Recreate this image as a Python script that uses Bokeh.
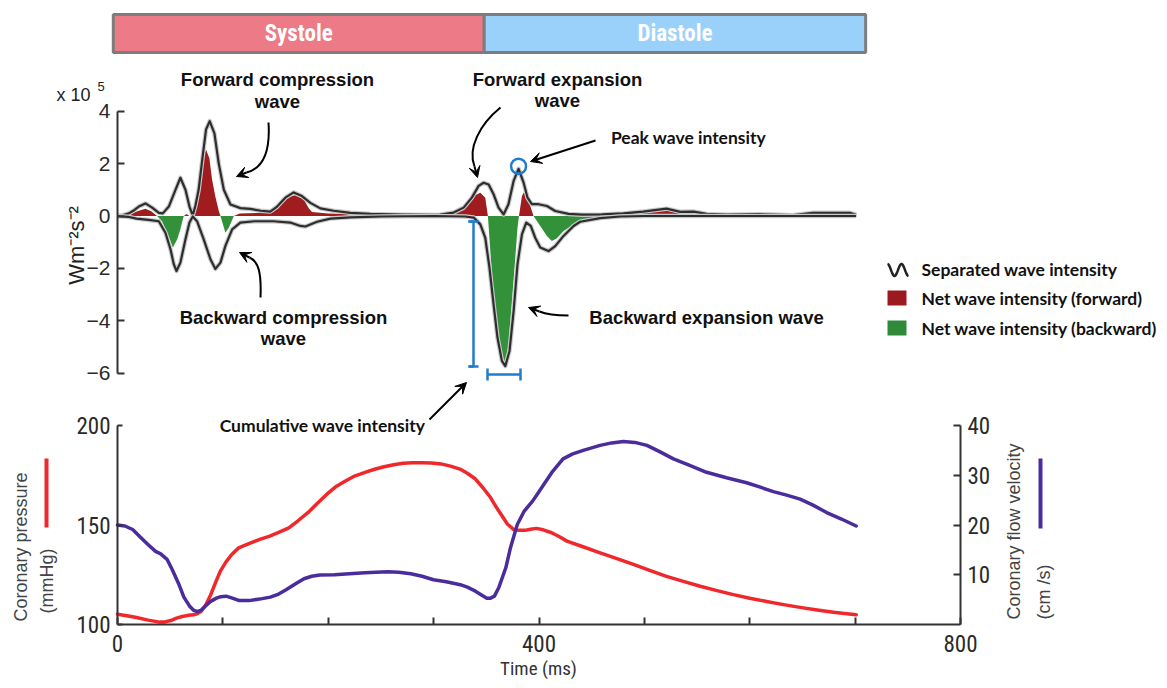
import numpy as np
from bokeh.plotting import figure
from bokeh.models import Range1d, LinearAxis, FixedTicker, Arrow, VeeHead
from bokeh.core.properties import value
from bokeh.embed import file_html
from bokeh.resources import INLINE

# ---------------- data ----------------
# Separated wave intensity (x 10^5 W m^-2 s^-2)
time_fwd_ms = [0, 5, 10.8, 15, 20.2, 26.5, 32.9, 39.2, 43, 48.7, 55, 59.7, 64.5, 68.3, 71.4, 74, 77,
               80.9, 84, 87.5, 92, 96.1, 100.9, 107.2, 116.6, 126, 136, 145, 151.5, 159.3, 167.2, 175,
               183, 192.5, 205, 221, 240, 270, 300, 306, 319, 328.5, 336.3, 342.7, 347.4, 352.2, 356.9,
               361.6, 366.4, 371, 375.9, 380.6, 385.4, 389.1, 393.2, 399.5, 407.5, 415.4, 428, 441, 460,
               480, 499, 521, 534, 546.6, 559, 578, 609, 641, 660, 679, 695, 701]
sep_forward = [0, 0.03, 0.1, 0.2, 0.36, 0.48, 0.32, 0.12, 0.1, 0.36, 1.0, 1.46, 1.0, 0.36, 0.02, 0.4, 1.0,
               2.3, 3.3, 3.62, 3.15, 2.0, 1.0, 0.44, 0.3, 0.27, 0.2, 0.17, 0.36, 0.7, 0.9, 0.76,
               0.5, 0.29, 0.2, 0.12, 0.08, 0.05, 0.04, 0.05, 0.13, 0.32, 0.7, 1.15, 1.27, 1.2, 0.83,
               0.32, 0.06, 0.45, 1.34, 1.8, 1.27, 0.7, 0.45, 0.45, 0.38, 0.19, 0.08, 0.05, 0.06,
               0.1, 0.17, 0.28, 0.16, 0.17, 0.08, 0.05, 0.07, 0.03, 0.12, 0.12, 0.12, 0.05]
time_bwd_ms = [0, 10, 18, 29.7, 39.2, 45.5, 50.3, 53.4, 56, 59.7, 64.5, 68.3, 71.4, 75.5, 81.8, 88.2,
               92.9, 97.7, 102.4, 108.8, 116.6, 130, 148, 164, 173.6, 178.3, 189.4, 202, 221, 250, 300,
               330, 338, 344.3, 349, 353, 356.9, 360.6, 364.8, 368, 372, 375.9, 379.6, 383.8, 387.9,
               392.2, 396.4, 401.2, 409, 415.4, 423.3, 432.8, 439, 458, 477, 500, 701]
sep_backward = [0, -0.03, -0.1, -0.15, -0.2, -0.64, -1.27, -1.84, -2.1, -1.78, -0.89, -0.25, -0.02, -0.2,
                -0.89, -1.65, -2.02, -1.78, -1.14, -0.51, -0.25, -0.2, -0.2, -0.25, -0.38, -0.4, -0.22,
                -0.1, -0.05, -0.02, 0, -0.02, -0.06, -0.32, -0.83, -1.97, -3.37, -4.64, -5.53, -5.73,
                -5.15, -3.63, -1.84, -0.7, -0.25, -0.38, -0.83, -1.2, -1.34, -1.15, -0.76, -0.38,
                -0.22, -0.08, -0.02, 0, 0]
# Net wave intensity (x 10^5 W m^-2 s^-2)
time_net_ms = [0, 6, 12, 20.2, 26.5, 32, 37.6, 42.3, 47, 50.3, 52.5, 56.6, 59.7, 62.2, 63, 65.6, 68,
               72.3, 75.5, 78.7, 81.2, 84, 87.2, 89.7, 92.9, 96.1, 97.7, 99.9, 102.4, 105.6, 108.8,
               110.4, 116, 135, 148, 154.6, 161, 168.8, 176.7, 181.5, 184.6, 200, 230, 260, 300, 312,
               322, 331.6, 337.9, 344.3, 349, 351.5, 353.8, 356.9, 360.6, 364.8, 368, 371, 374.3,
               377.5, 379.6, 381, 383.8, 386, 389.1, 392.2, 394.8, 396.4, 401.2, 407.5, 412.2, 417,
               423.3, 432.8, 439, 458, 477, 499, 521, 534, 546.6, 559, 578, 592, 609, 641, 660, 679,
               695, 701]
net_intensity = [0, 0.02, 0.08, 0.2, 0.28, 0.18, 0, -0.2, -0.64, -0.95, -1.2, -0.9, -0.51, -0.1, 0,
                 0.08, 0, 0, 0.61, 1.4, 2.16, 2.54, 2.2, 1.4, 0.73, 0.2, 0, -0.3, -0.64, -0.45, -0.15,
                 0, 0.1, 0.12, 0.15, 0.45, 0.7, 0.8, 0.64, 0.3, 0.15, 0.1, 0.06, 0.03, 0.01, 0.03,
                 0.13, 0.45, 0.76, 0.89, 0.7, 0, -1.34, -3.0, -4.26, -5.28, -5.66, -4.9, -3.24,
                 -1.59, -0.45, 0, 0.76, 0.93, 0.7, 0.32, 0, -0.1, -0.38, -0.76, -0.95, -0.85,
                 -0.57, -0.32, -0.17, -0.05, 0, 0.15, 0.24, 0.13, 0.15, 0.05, 0.03, 0.02, 0.05, 0.0,
                 0.1, 0.1, 0.1, 0]
# Coronary pressure (mmHg)
time_pres_ms = [0, 9, 18, 29, 40, 45, 50.6, 56, 61.5, 67, 72.3, 76, 79.5, 84, 88.5, 93, 97.6, 103,
                108.4, 115, 126.4, 135, 144.5, 153, 162.6, 171, 180.7, 190, 198.7, 207, 216.8, 225,
                234.9, 244, 253, 262, 271, 280, 289, 298, 307, 316, 325, 332, 339.7, 347, 354, 360,
                365, 370, 375.8, 381, 386.6, 392, 397.5, 404, 412, 419, 426.5, 441, 458, 474, 489.6,
                505, 521, 537, 553, 569, 584.5, 600, 616, 632, 647.8, 664, 679.4, 690, 701]
coronary_pressure = [105.2, 104.4, 103.5, 102.2, 101.2, 101.3, 102, 103.2, 104, 104.6, 104.9, 105.5,
                     106.6, 110, 115, 121, 126.8, 131.5, 135.2, 138.5, 141, 142.8, 144.4, 146.3, 148.6,
                     152, 156.2, 161, 165.5, 169.2, 172.2, 174.6, 176.4, 178, 179.3, 180.3, 181, 181.3,
                     181.3, 181.2, 180.7, 179.6, 178.1, 176, 173.1, 168.6, 163.8, 158.5, 154.5, 150.5,
                     147.8, 147.3, 147.3, 147.9, 148.3, 147.6, 146.1, 144.2, 141.9, 139.2, 136, 133.1,
                     130.2, 127.2, 124.2, 121.7, 119.2, 117, 115, 113.2, 111.6, 110, 108.6, 107.3,
                     106.2, 105.5, 104.9]
# Coronary flow velocity (cm/s)
time_vel_ms = [0, 7, 14.4, 22, 28.9, 36.1, 41, 47, 52, 57.8, 63, 68.7, 72, 75.9, 79.5, 83, 88, 93.9,
               98, 103, 109, 115.6, 125, 137.3, 145, 151.7, 160, 169.8, 177, 184.3, 192, 206, 220,
               234.9, 245, 256.5, 267, 278.3, 289, 299.9, 312, 325.3, 332, 339.7, 345, 350.5, 354,
               357.7, 362, 368.5, 373, 379.4, 386, 393.9, 399, 404.7, 413, 422.8, 432, 442, 458, 469,
               480, 491, 502.4, 514, 527.6, 543, 559, 578, 597, 610, 622.4, 635, 647.8, 660, 673,
               687, 701]
flow_velocity = [20, 19.8, 19.1, 17.5, 16.1, 14.7, 14.2, 13.1, 11, 8.3, 5.5, 3.6, 2.9, 2.6, 2.9, 3.6,
                 4.6, 5.3, 5.6, 5.7, 5.3, 4.8, 4.8, 5.2, 5.5, 6, 7, 8.3, 9.2, 9.7, 9.95, 10, 10.2, 10.4,
                 10.5, 10.6, 10.5, 10.2, 9.7, 9, 8.6, 8, 7.5, 6.7, 6.0, 5.3, 5.3, 5.7, 7.5, 11.4, 15.5,
                 20.1, 22.8, 24.8, 26.4, 28.2, 30.8, 33.3, 34.3, 35, 36, 36.5, 36.8, 36.6, 36, 34.8,
                 33.3, 32, 30.6, 29.5, 28.5, 27.6, 26.7, 26, 25.2, 24, 22.5, 21.2, 19.8]

wave_ticks = [-6, -4, -2, 0, 2, 4]
time_major_ticks = [0, 400, 800]
time_minor_ticks = [100, 200, 300, 500, 600, 700]
pressure_ticks = [100, 150, 200]
velocity_ticks = [10, 20, 30, 40]
phase_names = ["Systole", "Diastole"]
phase_start_ms = [-4, 348]
phase_end_ms = [348, 710]
peak_time_ms = [380.6]
peak_value = [1.9]

# ---------------- geometry ----------------
W, H = 1167, 688
X0, KX = 117.0, (960.0 - 117.0) / 800.0      # px of t=0, px per ms
Y0W, KW = 215.5, 26.2                          # px of wave 0, px per 1e5
YP100, KP = 624.0, 1.99                        # px of 100 mmHg, px per mmHg
KV = 4.975                                     # px per cm/s (0 at YP100)


def tx(px):
    return (px - X0) / KX


def wy(py):
    return (Y0W - py) / KW


p = figure(width=W, height=H, x_range=Range1d(tx(0), tx(W)), y_range=Range1d(wy(H), wy(0)),
           x_axis_type=None, y_axis_type=None, toolbar_location=None, output_backend="svg",
           min_border=0, outline_line_color=None)
p.extra_y_ranges = {
    "pres": Range1d(100 - (H - YP100) / KP, 100 + YP100 / KP),
    "vel": Range1d(-(H - YP100) / KV, YP100 / KV),
}

AX = "#333333"
NARROW = "'Liberation Sans Narrow', 'Roboto Condensed', 'Liberation Sans', sans-serif"


def style_axis(ax, font, size):
    ax.axis_line_color = AX
    ax.axis_line_width = 2
    ax.major_tick_line_color = AX
    ax.major_tick_line_width = 2
    ax.minor_tick_line_color = AX
    ax.minor_tick_line_width = 2
    ax.major_tick_in = 7
    ax.major_tick_out = 0
    ax.minor_tick_in = 0
    ax.minor_tick_out = 0
    ax.major_label_text_font = font
    ax.major_label_text_font_size = size
    ax.major_label_text_color = "#2a2a2a"
    ax.major_label_standoff = 7


# wave intensity axis
ax_w = LinearAxis(fixed_location=0, bounds=(-6, 4), ticker=FixedTicker(ticks=wave_ticks))
style_axis(ax_w, "Liberation Sans", "21px")
p.add_layout(ax_w, "left")

# time axis
ax_t = LinearAxis(y_range_name="pres", fixed_location=100, bounds=(0, 800),
                  ticker=FixedTicker(ticks=time_major_ticks, minor_ticks=time_minor_ticks))
style_axis(ax_t, NARROW, "23px")
ax_t.minor_tick_in = 7
ax_t.major_label_standoff = 10
p.add_layout(ax_t, "below")

# pressure axis
ax_p = LinearAxis(y_range_name="pres", fixed_location=0, bounds=(100, 200),
                  ticker=FixedTicker(ticks=pressure_ticks))
style_axis(ax_p, NARROW, "23px")
ax_p.major_tick_in = 5
p.add_layout(ax_p, "left")

# velocity axis
ax_v = LinearAxis(y_range_name="vel", fixed_location=800, bounds=(0, 40),
                  ticker=FixedTicker(ticks=velocity_ticks))
style_axis(ax_v, NARROW, "23px")
p.add_layout(ax_v, "right")

# ---------------- phase banner ----------------
p.quad(left=phase_start_ms, right=phase_end_ms, top=[wy(14)] * 2, bottom=[wy(52)] * 2,
       fill_color=["#ec7a87", "#99d1fb"], line_color="#7d7d7d", line_width=3)
p.text(x=[(a + b) / 2 for a, b in zip(phase_start_ms, phase_end_ms)], y=[wy(33)] * 2, text=phase_names,
       text_font=value(NARROW), text_font_style="bold", text_font_size="23px",
       text_color="white", text_align="center", text_baseline="middle")

# ---------------- wave intensity ----------------
net = np.array(net_intensity)
p.varea(x=time_net_ms, y1=0, y2=np.maximum(net, 0), fill_color="#a01c1f")
p.varea(x=time_net_ms, y1=0, y2=np.minimum(net, 0), fill_color="#33913a")
for tt, vv in ((time_fwd_ms, sep_forward), (time_bwd_ms, sep_backward)):
    p.line(tt, vv, line_color="#c9c9c9", line_width=4.5, line_join="round")
    p.line(tt, vv, line_color="#2d2d2d", line_width=2.2, line_join="round")

# peak wave intensity marker
BLUE = "#1f7ccf"
p.scatter(x=peak_time_ms, y=peak_value, size=15, marker="circle", fill_color=None,
          line_color=BLUE, line_width=2.5)
# cumulative wave intensity brackets
p.segment(x0=[tx(473)] * 3 + [tx(487), tx(487), tx(520)],
          y0=[wy(221), wy(221), wy(366)] + [wy(374), wy(368), wy(368)],
          x1=[tx(473), tx(468), tx(468)] + [tx(520), tx(487), tx(520)],
          y1=[wy(366), wy(221), wy(366)] + [wy(374), wy(380), wy(380)],
          line_color=BLUE, line_width=2.5)
p.segment(x0=[tx(478), tx(478)], y0=[wy(221), wy(366)], x1=[tx(468), tx(468)], y1=[wy(221), wy(366)],
          line_color=BLUE, line_width=2.5)

# ---------------- pressure / velocity ----------------
p.line(time_pres_ms, coronary_pressure, y_range_name="pres", line_color="#f0282b", line_width=3.5,
       line_join="round", line_cap="round")
p.line(time_vel_ms, flow_velocity, y_range_name="vel", line_color="#4a2c9c", line_width=3.5,
       line_join="round", line_cap="round")

# ---------------- annotations ----------------
def texts(items, font, size, style="bold", color="#111111", align="center", angle=0.0):
    p.text(x=[tx(i[1]) for i in items], y=[wy(i[2]) for i in items], text=[i[0] for i in items],
           text_font=value(font), text_font_size=size, text_font_style=style, text_color=color,
           text_align=align, text_baseline="middle", angle=angle)


texts([("Forward compression", 277, 79), ("wave", 277, 101),
       ("Backward compression", 283, 317), ("wave", 283, 338),
       ("Forward expansion", 557, 79), ("wave", 557, 100),
       ("Backward expansion wave", 706, 317)], "Liberation Sans", "18.5px")
texts([("Peak wave intensity", 688, 137), ("Cumulative wave intensity", 322, 425)], "Lato", "17.5px")
texts([("Separated wave intensity", 921, 269), ("Net wave intensity (forward)", 921, 298),
       ("Net wave intensity (backward)", 921, 328)], "Lato", "17.5px", align="left")

# axis titles
texts([("x 10", 56, 94)], "Liberation Sans", "18px", style="normal", color="#222222", align="left")
texts([("5", 97, 86)], "Liberation Sans", "13px", style="normal", color="#222222", align="left")
texts([("Wm\u207b\u00b2s\u207b\u00b2", 76, 245)], "Liberation Sans", "22px", style="normal",
      color="#222222", angle=np.pi / 2)
texts([("Time (ms)", 538, 668)], NARROW, "19px", style="normal", color="#333333")
texts([("Coronary pressure", 20, 621), ("(mmHg)", 46, 613),
       ("Coronary flow velocity", 1013, 619), ("(cm /s)", 1043, 619)],
      "Liberation Sans", "18px", style="normal", color="#444444", align="left", angle=np.pi / 2)
p.segment(x0=[tx(46), tx(1040)], y0=[wy(458), wy(458)], x1=[tx(46), tx(1040)], y1=[wy(527), wy(528)],
          line_color=["#f0282b", "#4a2c9c"], line_width=4)

# legend icons
p.quad(left=[tx(887), tx(887)], right=[tx(906), tx(906)], top=[wy(290), wy(320)],
       bottom=[wy(305), wy(335)], fill_color=["#9c1a1f", "#2f8a3a"], line_color=None)
th = np.linspace(0, 3 * np.pi, 40)
p.line(x=tx(887 + 21 * th / (3 * np.pi)), y=wy(269.5 - 6 * np.cos(th)), line_color="#222222", line_width=2.5)

# arrows
def arrow(x0, y0, x1, y1):
    p.add_layout(Arrow(x_start=tx(x0), y_start=wy(y0), x_end=tx(x1), y_end=wy(y1), line_width=2,
                       line_color="black",
                       end=VeeHead(size=11, fill_color="black", line_color="black", line_width=1)))


def curve(pts):
    (a, b), (c, d), (e, f), (g, h) = pts
    p.bezier(x0=[tx(a)], y0=[wy(b)], cx0=[tx(c)], cy0=[wy(d)], cx1=[tx(e)], cy1=[wy(f)],
             x1=[tx(g)], y1=[wy(h)], line_color="black", line_width=2)


curve([(268, 122), (270, 152), (262, 168), (246, 172)])
arrow(246, 172, 236, 176)
curve([(260, 297), (261, 272), (258, 261), (249, 257)])
arrow(249, 257, 239, 252)
curve([(500, 107), (479, 124), (467, 148), (474, 166)])
arrow(474, 166, 477, 177)
arrow(595, 140, 530, 161)
curve([(568, 315), (553, 315), (546, 314), (539, 311)])
arrow(539, 311, 528, 307)
arrow(429, 419, 466, 382)

open("out.html", "w").write(file_html(p, INLINE))
